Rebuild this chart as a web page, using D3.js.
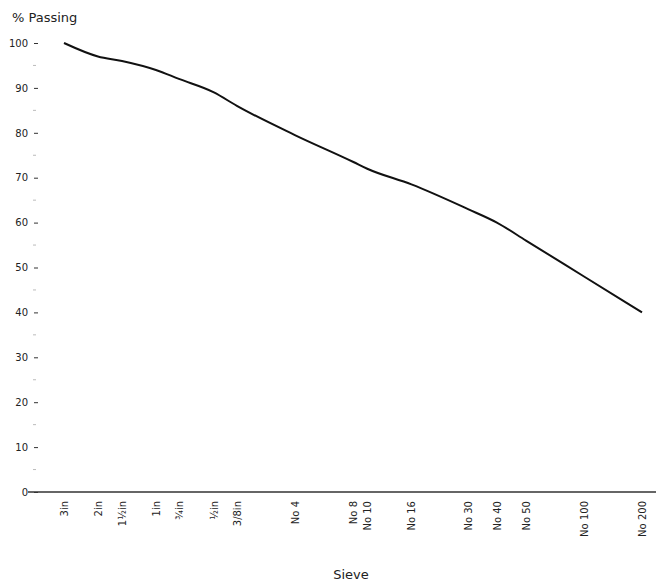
<!DOCTYPE html>
<html>
<head>
<meta charset="utf-8">
<script src="https://cdn.jsdelivr.net/npm/d3@7"></script>
<style>
  body { margin: 0; background: #fff; }
  text { font-family: "DejaVu Sans", sans-serif; fill: #222; }
</style>
</head>
<body>
<svg id="chart" width="660" height="582"></svg>
<script>
// sieve openings in mm, their labels and % passing
var sieveSizes = [75, 50, 37.5, 25, 19, 12.5, 9.5, 4.75, 2.36, 2.0, 1.18, 0.6, 0.425, 0.3, 0.15, 0.075];
var sieveLabels = ["3in", "2in", "1½in", "1in", "¾in", "½in", "3/8in", "No 4", "No 8", "No 10", "No 16", "No 30", "No 40", "No 50", "No 100", "No 200"];
var passing = [100, 97, 96, 94, 92, 89, 86, 79.5, 73.5, 72, 68.5, 63, 60, 56, 48, 40];
var yTicks = [0, 10, 20, 30, 40, 50, 60, 70, 80, 90, 100];
var yMinorTicks = [5, 15, 25, 35, 45, 55, 65, 75, 85, 95];

var svg = d3.select("#chart");

// log scale on sieve size, largest on the left
var x = d3.scaleLog()
    .domain([75, 0.075])
    .range([64, 642]);

var y = d3.scaleLinear()
    .domain([0, 100])
    .range([492, 43]);

// y axis - ticks and labels only
var yAxis = svg.append("g")
    .attr("transform", "translate(38,0)")
    .call(d3.axisLeft(y).tickValues(yTicks).tickSize(4).tickPadding(6));
yAxis.select(".domain").remove();
yAxis.selectAll("line").attr("stroke", "#333");
yAxis.selectAll("text").style("font-size", "10px");

// faint minor ticks
svg.append("g")
    .selectAll("line")
    .data(yMinorTicks)
    .enter()
    .append("line")
    .attr("x1", 33)
    .attr("x2", 36)
    .attr("y1", function (d) { return y(d); })
    .attr("y2", function (d) { return y(d); })
    .attr("stroke", "#bbb");

// baseline
svg.append("line")
    .attr("x1", 28)
    .attr("x2", 656)
    .attr("y1", y(0))
    .attr("y2", y(0))
    .attr("stroke", "#333")
    .attr("stroke-width", 1.5);

// x axis - rotated sieve names
var xAxis = svg.append("g")
    .attr("transform", "translate(0," + y(0) + ")")
    .call(d3.axisBottom(x)
        .tickValues(sieveSizes)
        .tickFormat(function (d, i) { return sieveLabels[i]; })
        .tickSize(0));
xAxis.select(".domain").remove();
xAxis.selectAll("text")
    .style("font-size", "10px")
    .attr("transform", "rotate(-90)")
    .attr("text-anchor", "end")
    .attr("x", -9)
    .attr("y", 0)
    .attr("dy", "0.35em");

// grading curve
var line = d3.line()
    .x(function (d, i) { return x(sieveSizes[i]); })
    .y(function (d) { return y(d); })
    .curve(d3.curveMonotoneX);

svg.append("path")
    .datum(passing)
    .attr("d", line)
    .attr("fill", "none")
    .attr("stroke", "#111")
    .attr("stroke-width", 2);

// titles
svg.append("text")
    .attr("x", 12)
    .attr("y", 22)
    .style("font-size", "13px")
    .text("% Passing");

svg.append("text")
    .attr("x", 351)
    .attr("y", 579)
    .attr("text-anchor", "middle")
    .style("font-size", "13px")
    .text("Sieve");
</script>
</body>
</html>
